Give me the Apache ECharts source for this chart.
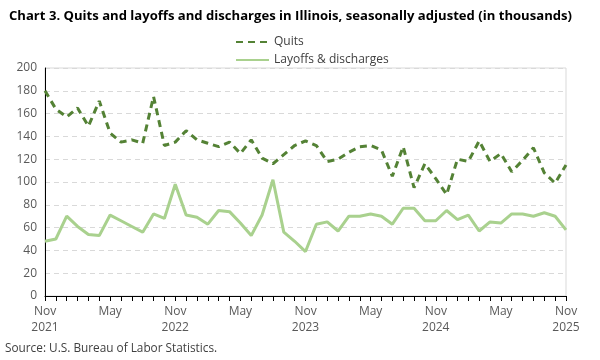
<!DOCTYPE html>
<html>
<head>
    <meta charset="utf-8">
    <title>Illinois quits and layoffs</title>
    <script src="https://cdn.jsdelivr.net/npm/echarts@6/dist/echarts.min.js"></script>
</head>
<style>
    *{
        padding: 0;
        margin: 0;
    }
    #main {
        width: 600px;
        height: 360px;
        position: absolute
    }
</style>
<body>
    <div id="main"></div>
    <script type="text/javascript">
    // monthly categories, Nov 2021 .. Nov 2025
    var months = [
        'Nov 2021','Dec 2021','Jan 2022','Feb 2022','Mar 2022','Apr 2022','May 2022','Jun 2022','Jul 2022','Aug 2022','Sep 2022','Oct 2022',
        'Nov 2022','Dec 2022','Jan 2023','Feb 2023','Mar 2023','Apr 2023','May 2023','Jun 2023','Jul 2023','Aug 2023','Sep 2023','Oct 2023',
        'Nov 2023','Dec 2023','Jan 2024','Feb 2024','Mar 2024','Apr 2024','May 2024','Jun 2024','Jul 2024','Aug 2024','Sep 2024','Oct 2024',
        'Nov 2024','Dec 2024','Jan 2025','Feb 2025','Mar 2025','Apr 2025','May 2025','Jun 2025','Jul 2025','Aug 2025','Sep 2025','Oct 2025',
        'Nov 2025'
    ];
    // quits, thousands
    var quits = [
        180, 164, 157, 165, 149, 171, 143, 135, 137, 134, 175, 132,
        135, 145, 137, 134, 131, 135, 125, 137, 121, 116, 124, 132,
        136, 132, 118, 120, 126, 131, 132, 128, 105, 131, 95, 116,
        103, 89, 120, 118, 136, 118, 125, 109, 119, 130, 108, 99,
        115
    ];
    // layoffs & discharges, thousands
    var layoffs = [
        48, 50, 70, 61, 54, 53, 71, 66, 61, 56, 72, 68,
        98, 71, 69, 63, 75, 74, 64, 53, 71, 102, 56, 48,
        39, 63, 65, 57, 70, 70, 72, 70, 63, 77, 77, 66,
        66, 75, 67, 71, 57, 65, 64, 72, 72, 70, 73, 70,
        58
    ];
    var yTicks = [0, 20, 40, 60, 80, 100, 120, 140, 160, 180, 200];

    var myChart = echarts.init(document.getElementById('main'));
    var option = {
        backgroundColor: '#ffffff',
        textStyle: { fontFamily: 'Open Sans' },
        title: {
            text: 'Chart 3. Quits and layoffs and discharges in Illinois, seasonally adjusted (in thousands)',
            left: 4,
            top: 5,
            textStyle: { fontSize: 13.1, fontWeight: 'bold', color: '#000', fontFamily: 'Open Sans' }
        },
        legend: {
            orient: 'vertical',
            left: 230,
            top: 31,
            itemWidth: 33,
            itemHeight: 10,
            itemGap: 6,
            itemStyle: { opacity: 0 },
            textStyle: { fontSize: 12, color: '#404040' },
            data: ['Quits', 'Layoffs & discharges']
        },
        grid: {
            left: 45,
            right: 34,
            top: 68,
            bottom: 64,
            show: true,
            borderColor: '#d9d9d9',
            borderWidth: 1
        },
        xAxis: {
            type: 'category',
            data: months,
            boundaryGap: false,
            axisLine: { lineStyle: { color: '#000', width: 1 } },
            axisTick: { interval: 0, length: 5, lineStyle: { color: '#000' } },
            axisLabel: {
                interval: 5,
                color: '#595959',
                fontSize: 12,
                lineHeight: 16,
                margin: 8,
                formatter: function (v) {
                    var p = v.split(' ');
                    return p[0] === 'Nov' ? p[0] + '\n' + p[1] : p[0];
                }
            }
        },
        yAxis: {
            type: 'value',
            min: yTicks[0],
            max: yTicks[yTicks.length - 1],
            interval: 20,
            axisLine: { show: true, lineStyle: { color: '#000', width: 1 } },
            axisTick: { show: false },
            axisLabel: { color: '#595959', fontSize: 12, margin: 8 },
            splitLine: { lineStyle: { color: '#d9d9d9', type: [5, 4] } }
        },
        series: [
            {
                name: 'Quits',
                type: 'line',
                data: quits,
                symbol: 'none',
                color: '#548235',
                lineStyle: { color: '#548235', width: 3, type: [7, 5] }
            },
            {
                name: 'Layoffs & discharges',
                type: 'line',
                data: layoffs,
                symbol: 'none',
                color: '#a9d18e',
                lineStyle: { color: '#a9d18e', width: 3 }
            }
        ],
        graphic: [{
            type: 'text',
            left: 5,
            top: 343,
            style: { text: 'Source: U.S. Bureau of Labor Statistics.', fontSize: 11.8, fill: '#404040', fontFamily: 'Open Sans' }
        }]
    };
    myChart.setOption(option);
    </script>
</body>
</html>
